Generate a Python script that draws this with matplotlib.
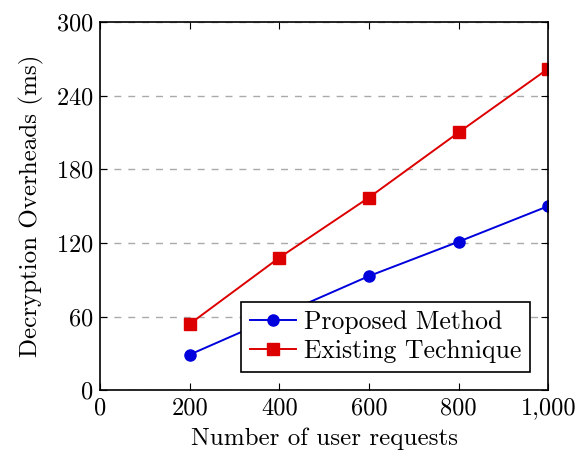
import matplotlib.pyplot as plt
from matplotlib.ticker import FuncFormatter

plt.rcParams['font.family'] = 'cmr10'
plt.rcParams['axes.formatter.use_mathtext'] = True

requests = [200, 400, 600, 800, 1000]
proposed = [29, 61, 93, 121, 150]
existing = [54, 108, 157, 210, 262]

fig = plt.figure(figsize=(5.82, 4.58), dpi=100)
ax = fig.add_axes([0.172, 0.148, 0.77, 0.804])

ax.plot(requests, proposed, color='#0000dd', marker='o', markersize=8, linewidth=1.4, label='Proposed Method')
ax.plot(requests, existing, color='#dd0000', marker='s', markersize=8, linewidth=1.4, label='Existing Technique')

ax.set_xlim(0, 1000)
ax.set_ylim(0, 300)
ax.set_xticks([0, 200, 400, 600, 800, 1000])
ax.set_yticks([0, 60, 120, 180, 240, 300])
ax.xaxis.set_major_formatter(FuncFormatter(lambda v, p: f"{int(v):,}"))
ax.yaxis.grid(True, linestyle=(0, (5, 5)), color='#aaaaaa', linewidth=1)
ax.tick_params(direction='in', top=True, right=True, labelsize=17.5, length=5, pad=5)
for s in ax.spines.values():
    s.set_linewidth(1.2)

ax.set_xlabel("Number of user requests", fontsize=18, labelpad=6)
ax.set_ylabel("Decryption Overheads (ms)", fontsize=18, labelpad=8)

leg = ax.legend(loc='lower right', fontsize=18.5, fancybox=False, edgecolor='black',
                framealpha=1, borderaxespad=0.7, handlelength=1.8, handletextpad=0.3,
                labelspacing=0.2, borderpad=0.35)
leg.get_frame().set_linewidth(1.2)

fig.savefig("out.png", dpi=100)
